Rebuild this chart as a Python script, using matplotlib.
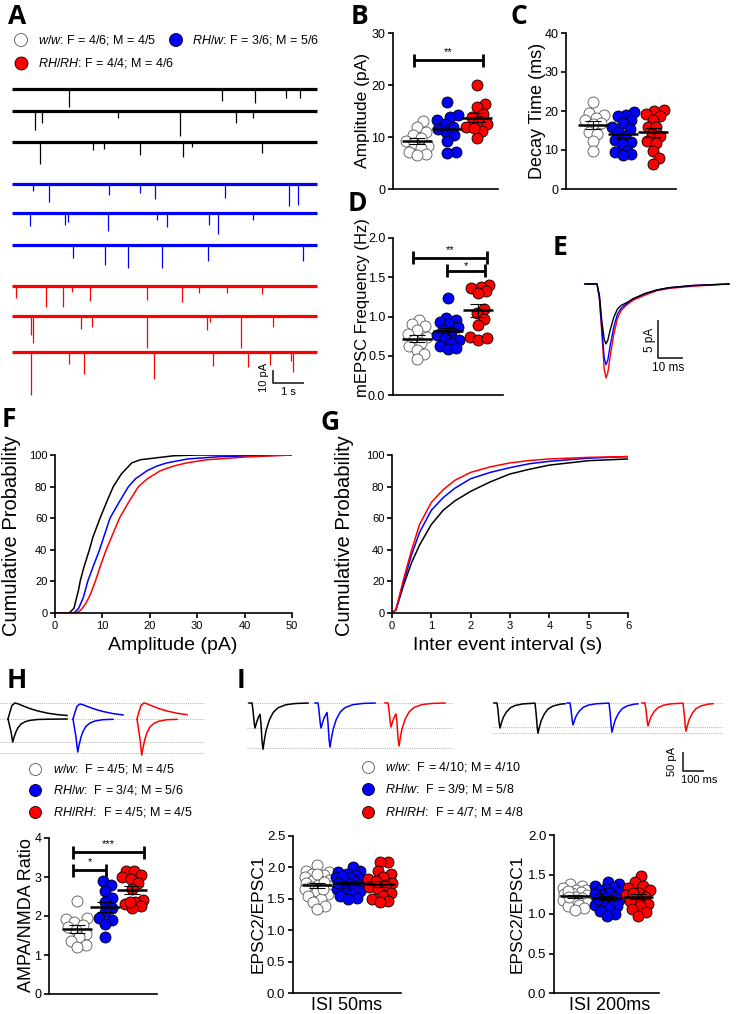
import numpy as np
import matplotlib
matplotlib.use("Agg")
import matplotlib.pyplot as plt

plt.rcParams['font.family'] = ['Liberation Sans', 'DejaVu Sans']
plt.rcParams['mathtext.fontset'] = 'custom'
plt.rcParams['mathtext.it'] = 'Liberation Sans:italic'
plt.rcParams['mathtext.rm'] = 'Liberation Sans'

# ---------------------------------------------------------------- data
GROUPS = ["w/w", "RH/w", "RH/RH"]

# Panel A: example mEPSC traces, events (time s, amplitude pA)
A_BLACK_T = [[1.87, 6.9, 7.98, 8.97, 9.44],
             [0.74, 1.0, 3.48, 5.5, 7.34, 7.9],
             [0.92, 2.64, 3.02, 4.2, 5.6, 5.9, 8.2]]
A_BLACK_A = [[15, 10, 12, 8, 8],
             [16, 10, 6, 21, 10, 6],
             [19, 7, 6, 11, 13, 4, 9]]
A_BLUE_T = [[0.7, 1.22, 3.19, 4.2, 4.7, 7.0, 9.09, 9.37],
            [0.59, 1.75, 1.82, 3.16, 4.74, 5.07, 6.47, 6.77, 7.9],
            [2.0, 3.06, 3.81, 4.93, 6.44, 9.55]]
A_BLUE_A = [[6, 15, 9, 8, 13, 12, 19, 18],
            [11, 10, 8, 15, 6, 12, 10, 18, 6],
            [11, 17, 20, 20, 14, 14]]
A_RED_T = [[0.13, 1.1, 1.66, 1.96, 2.56, 4.42, 5.56, 6.14, 7.04, 8.19],
           [0.61, 0.68, 2.25, 2.61, 4.42, 6.38, 6.5, 7.5, 8.55],
           [0.61, 1.87, 2.36, 4.67, 6.58, 7.75, 8.46, 9.14, 9.22]]
A_RED_A = [[10, 18, 18, 5, 13, 12, 14, 6, 6, 7],
           [16, 23, 11, 9, 27, 12, 5, 27, 9],
           [37, 10, 19, 23, 12, 13, 11, 8, 17]]
A_LEGEND = [r"$\mathit{w/w}$: F = 4/6; M = 4/5",
            r"$\mathit{RH/w}$: F = 3/6; M = 5/6",
            r"$\mathit{RH/RH}$: F = 4/4; M = 4/6"]

# Panel B: amplitude (pA)
B_WW = [13.1, 12.0, 11.0, 10.4, 9.8, 9.2, 8.8, 8.3, 7.8, 7.2, 6.8, 6.6]
B_RHW = [16.7, 14.3, 13.8, 13.2, 12.5, 12.0, 11.5, 11.0, 10.3, 9.3, 7.2, 7.0]
B_RHRH = [20.0, 16.3, 15.7, 14.4, 13.8, 13.0, 12.5, 12.0, 11.2, 9.9, 11.8]
# Panel C: decay time (ms)
C_WW = [22.3, 19.4, 19.0, 18.2, 17.6, 17.0, 16.6, 14.5, 14.0, 12.2, 9.7]
C_RHW = [19.7, 19.0, 18.6, 17.6, 16.8, 16.0, 15.4, 14.6, 13.6, 12.6, 12.0,
         11.6, 9.8, 9.4, 9.0, 8.8]
C_RHRH = [20.3, 20.0, 19.2, 18.8, 17.8, 16.0, 15.8, 14.0, 13.6, 12.2, 11.8,
          9.8, 7.9, 6.4]
# Panel D: mEPSC frequency (Hz)
D_WW = [0.96, 0.91, 0.88, 0.83, 0.78, 0.74, 0.70, 0.66, 0.62, 0.57, 0.52, 0.46]
D_RHW = [1.24, 0.98, 0.96, 0.93, 0.90, 0.86, 0.83, 0.80, 0.76, 0.73, 0.70,
         0.66, 0.63, 0.59, 0.60]
D_RHRH = [1.40, 1.38, 1.36, 1.33, 1.30, 1.10, 1.04, 0.97, 0.89, 0.74, 0.70, 0.72]

# Panel E: averaged mEPSC (time ms, current pA)
E_T = [0, 5, 6, 7, 8, 8.75, 9.5, 10.5, 12, 13.5, 15, 17.5, 20, 25, 30, 35, 45, 60]
E_WW = [0, 0, -1.5, -5, -7.5, -8.1, -7.6, -6.2, -4.5, -3.4, -2.9, -2.5, -2.0,
        -1.3, -0.8, -0.5, -0.2, 0]
E_RHW = [0, 0, -1.8, -6, -10, -10.9, -10.3, -8.3, -5.8, -4.1, -3.3, -2.6, -2.0,
         -1.3, -0.8, -0.5, -0.2, 0]
E_RHRH = [0, 0, -2, -6.5, -11.5, -12.7, -12.0, -9.8, -6.8, -4.7, -3.6, -2.8,
          -2.2, -1.5, -0.9, -0.6, -0.3, 0]

# Panel F: cumulative amplitude distributions
F_WW_X = [0, 3, 4, 5, 5.3, 6, 7.25, 8, 9.5, 11, 12.3, 14, 16.2, 18, 20.8, 25, 30, 50]
F_WW_Y = [0, 0, 3, 15, 20, 28, 40, 48, 60, 71, 80, 88, 95, 97, 98, 99.5, 100, 100]
F_RHW_X = [0, 4, 5, 6, 6.9, 8, 9.4, 10.5, 11.6, 13.5, 15.5, 17, 19.4, 21.5,
           23.6, 28, 35, 50]
F_RHW_Y = [0, 0, 3, 10, 20, 29, 40, 50, 60, 70, 80, 85, 90, 93, 95, 97.5, 99, 100]
F_RHRH_X = [0, 4.5, 5.5, 6.5, 7.5, 8.5, 9.6, 10.8, 12.2, 13.6, 15.5, 17.6, 19.5,
            22.2, 25, 27.8, 32, 40, 50]
F_RHRH_Y = [0, 0, 2, 6, 12, 20, 30, 40, 50, 60, 70, 80, 85, 90, 93, 95, 97,
            98.7, 100]

# Panel G: cumulative inter-event-interval distributions
G_X = [0, 0.1, 0.2, 0.3, 0.5, 0.7, 1.0, 1.3, 1.6, 2.0, 2.5, 3.0, 3.5, 4, 5, 6]
G_WW = [0, 2, 10, 18, 32, 43, 56, 65, 71, 77, 83, 88, 91, 93.6, 96.4, 97.5]
G_RHW = [0, 2, 11, 20, 37, 51, 65, 73, 79, 85, 89, 92, 94.5, 96, 98, 99]
G_RHRH = [0, 2, 12, 22, 40, 56, 70, 78, 84, 89, 92.5, 95, 96.5, 97.5, 98.5, 99]

# Panel H: AMPA/NMDA example traces (shape keypoints) and ratios
H_AMPA_T = [0, 3, 4.7, 6, 8, 10, 13, 17, 22, 30, 40, 59]
H_AMPA_F = [0, 0.55, 1.0, 0.8, 0.55, 0.38, 0.22, 0.12, 0.06, 0.02, 0.01, 0]
H_NMDA_T = [0, 2, 4, 7, 10, 15, 22, 30, 40, 50, 59]
H_NMDA_F = [0, 0.45, 0.85, 1.0, 0.95, 0.82, 0.65, 0.5, 0.36, 0.27, 0.22]
H_AMPA_PEAK = [23, 33, 36]
H_NMDA_PEAK = [16, 15, 16]
H_WW = [2.38, 1.96, 1.92, 1.85, 1.78, 1.72, 1.65, 1.55, 1.45, 1.35, 1.25, 1.20]
H_RHW = [2.90, 2.80, 2.65, 2.45, 2.35, 2.20, 2.10, 1.95, 1.90, 1.80, 1.47]
H_RHRH = [3.16, 3.15, 3.05, 3.00, 2.95, 2.85, 2.70, 2.40, 2.35, 2.30, 2.25,
          2.20, 2.35]
H_LEGEND = [r"$\mathit{w/w}$:  F = 4/5; M = 4/5",
            r"$\mathit{RH/w}$:  F = 3/4; M = 5/6",
            r"$\mathit{RH/RH}$:  F = 4/5; M = 4/5"]

# Panel I: paired-pulse traces (shape keypoints) and ratios
I_T = [0, 1, 2, 3, 4, 6, 9, 13, 18, 25, 35, 50]
I_F = [0, 0.3, 0.75, 1.0, 0.85, 0.6, 0.38, 0.2, 0.1, 0.04, 0.01, 0]
I50_ISI = [8, 9, 8]
I50_AMP1 = [25, 25, 24]
I50_AMP2 = [39, 38, 36]
I200_ISI = [38, 39, 38]
I200_AMP1 = [25, 22, 23]
I200_AMP2 = [30, 29, 28]
I50_WW = [2.04, 1.95, 1.92, 1.90, 1.88, 1.85, 1.82, 1.80, 1.78, 1.75, 1.72,
          1.70, 1.68, 1.65, 1.62, 1.58, 1.55, 1.50, 1.45, 1.38, 1.33, 1.90,
          1.76, 1.66]
I50_RHW = [2.00, 1.95, 1.92, 1.90, 1.88, 1.85, 1.83, 1.80, 1.78, 1.76, 1.74,
           1.72, 1.70, 1.68, 1.66, 1.63, 1.60, 1.57, 1.54, 1.52, 1.50, 1.86, 1.75]
I50_RHRH = [2.09, 2.08, 1.95, 1.90, 1.85, 1.82, 1.78, 1.75, 1.72, 1.68, 1.65,
            1.60, 1.55, 1.50, 1.47, 1.45]
I200_WW = [1.38, 1.35, 1.33, 1.31, 1.30, 1.28, 1.26, 1.25, 1.24, 1.22, 1.20,
           1.18, 1.16, 1.14, 1.12, 1.10, 1.07, 1.05, 1.29, 1.21]
I200_RHW = [1.41, 1.38, 1.36, 1.34, 1.32, 1.30, 1.28, 1.26, 1.24, 1.22, 1.20,
            1.18, 1.16, 1.14, 1.12, 1.10, 1.07, 1.04, 1.00, 0.97, 1.25, 1.19]
I200_RHRH = [1.48, 1.40, 1.36, 1.33, 1.30, 1.27, 1.24, 1.22, 1.19, 1.16, 1.13,
             1.10, 1.06, 1.02, 0.98, 1.26]
I_LEGEND = [r"$\mathit{w/w}$:  F = 4/10; M = 4/10",
            r"$\mathit{RH/w}$:  F = 3/9; M = 5/8",
            r"$\mathit{RH/RH}$:  F = 4/7; M = 4/8"]

# ---------------------------------------------------------------- style
TRACE_COLORS = ["black", "#0000ff", "#ff0000"]
FACE_COLORS = ["white", "#0000ff", "#ff0000"]
EDGE_COLORS = ["#555555", "black", "black"]

W, H = 741, 1014
fig = plt.figure(figsize=(W / 100, H / 100), dpi=100)


def pax(x0, y0, x1, y1):
    return fig.add_axes([x0 / W, 1 - y1 / H, (x1 - x0) / W, (y1 - y0) / H])


def style(ax, labelsize=9, lw=1.2):
    for s in ["top", "right"]:
        ax.spines[s].set_visible(False)
    for s in ["left", "bottom"]:
        ax.spines[s].set_linewidth(lw)
    ax.tick_params(direction="out", length=3.5, width=lw, labelsize=labelsize,
                   pad=2)


def swarm_px(ypx, mind, maxw):
    order = np.argsort(ypx)
    placed = []
    xs = np.zeros(len(ypx))
    cands = sorted(np.arange(-maxw, maxw + 0.01, 0.5), key=lambda c: (abs(c), -c))
    for i in order:
        y = ypx[i]
        chosen = None
        bestx, bestd = 0.0, -1.0
        for x in cands:
            if placed:
                d = min(np.hypot(x - px, y - py) for px, py in placed)
            else:
                d = np.inf
            if d >= mind:
                chosen = x
                break
            if d > bestd:
                bestd, bestx = d, x
        xs[i] = chosen if chosen is not None else bestx
        placed.append((xs[i], y))
    return xs


def dotplot(ax, groups, xlim, ylim, diam=11, frac=0.75, maxw=11):
    ax.set_xlim(*xlim)
    ax.set_ylim(*ylim)
    pos = ax.get_position()
    ppx = pos.width * W / (xlim[1] - xlim[0])
    ppy = pos.height * H / (ylim[1] - ylim[0])
    s = (diam / 1.389) ** 2
    for gi, vals in enumerate(groups):
        v = np.asarray(vals, float)
        offs = swarm_px(v * ppy, diam * frac, maxw) / ppx
        ax.scatter(gi + offs, v, s=s, facecolor=FACE_COLORS[gi],
                   edgecolor=EDGE_COLORS[gi], linewidth=0.6, zorder=3,
                   clip_on=False)
        m = v.mean()
        sem = v.std(ddof=1) / np.sqrt(len(v))
        ax.errorbar(gi, m, yerr=sem, color="black", lw=0.8, capsize=5.5,
                    capthick=0.8, zorder=4)
        ax.hlines(m, gi - 15 / ppx, gi + 15 / ppx, color="black", lw=1.8,
                  zorder=5)
    ax.set_xticks([])
    return ppx, ppy


def sigbar(ax, x0, x1, y, text, ppy, off=8):
    h = 6.5 / ppy
    kw = dict(color="black", lw=2, clip_on=False, solid_capstyle="butt")
    ax.plot([x0, x1], [y, y], **kw)
    ax.plot([x0, x0], [y - h, y + h], **kw)
    ax.plot([x1, x1], [y - h, y + h], **kw)
    ax.text((x0 + x1) / 2, y + off / ppy, text, ha="center", va="center",
            fontsize=8)


# overlay for labels in figure pixel coordinates
ov = fig.add_axes([0, 0, 1, 1], zorder=10)
ov.set_xlim(0, W)
ov.set_ylim(H, 0)
ov.axis("off")
ov.patch.set_alpha(0)

for letter, (x, y) in zip("ABCDEFGHI",
                          [(8, 3), (351, 3), (510, 3), (348, 190), (553, 234),
                           (2, 406), (320, 409), (7, 667), (237, 667)]):
    ov.text(x, y, letter, fontsize=19, fontweight="bold", family="Open Sans",
            ha="left", va="top")

# ---------------------------------------------------------------- Panel A
axA = pax(0, 75, 360, 400)
axA.axis("off")
PXS = 30.5
PAPX = 0.855
axA.set_xlim(-12 / PXS, 348 / PXS)
axA.set_ylim(-325 * PAPX, 0)
base_px = [[89, 111, 142], [184, 213, 245], [286, 316, 352]]
for ci, (TT, AA) in enumerate([(A_BLACK_T, A_BLACK_A), (A_BLUE_T, A_BLUE_A),
                               (A_RED_T, A_RED_A)]):
    for ri in range(3):
        b = -(base_px[ci][ri] - 75) * PAPX
        axA.hlines(b, 0, 10, color=TRACE_COLORS[ci], lw=2.3)
        axA.vlines(TT[ri], b, b - np.asarray(AA[ri]), color=TRACE_COLORS[ci],
                   lw=0.9)
sb_b = -(383 - 75) * PAPX
axA.plot([8.55, 8.55, 9.55], [sb_b + 10, sb_b, sb_b], color="#333333", lw=1.3)
axA.text(8.25, sb_b + 5, "10 pA", rotation=90, ha="center", va="center",
         fontsize=8)
axA.text(9.05, sb_b - 8, "1 s", ha="center", va="center", fontsize=8)

ov.scatter([21, 176], [40, 40], s=(13 / 1.389) ** 2,
           facecolor=FACE_COLORS[:2], edgecolor=EDGE_COLORS[:2], linewidth=0.6)
ov.scatter([21], [63], s=(13 / 1.389) ** 2, facecolor=FACE_COLORS[2],
           edgecolor=EDGE_COLORS[2], linewidth=0.6)
ov.text(38, 40, A_LEGEND[0], fontsize=9, va="center")
ov.text(192, 40, A_LEGEND[1], fontsize=9, va="center")
ov.text(38, 63, A_LEGEND[2], fontsize=9, va="center")

# ---------------------------------------------------------------- Panel B
axB = pax(393, 33, 498, 189)
style(axB)
_, ppy = dotplot(axB, [B_WW, B_RHW, B_RHRH], (-0.8, 2.7), (0, 30))
axB.set_yticks([0, 10, 20, 30])
sigbar(axB, -0.1, 2.2, 24.8, "**", ppy)
ov.text(362, 111, "Amplitude (pA)", rotation=90, ha="center", va="center",
        fontsize=12.5)

# ---------------------------------------------------------------- Panel C
axC = pax(566, 33, 676, 189)
style(axC)
dotplot(axC, [C_WW, C_RHW, C_RHRH], (-0.9, 2.77), (0, 40))
axC.set_yticks([0, 10, 20, 30, 40])
ov.text(537, 111, "Decay Time (ms)", rotation=90, ha="center", va="center",
        fontsize=13)

# ---------------------------------------------------------------- Panel D
axD = pax(393, 238, 503, 395)
style(axD, labelsize=9)
_, ppy = dotplot(axD, [D_WW, D_RHW, D_RHRH], (-0.79, 2.82), (0, 2))
axD.set_yticks([0, 0.5, 1.0, 1.5, 2.0])
axD.set_yticklabels(["0.0", "0.5", "1.0", "1.5", "2.0"])
sigbar(axD, -0.13, 2.3, 1.75, "**", ppy)
sigbar(axD, 0.98, 2.23, 1.58, "*", ppy, off=5)
ov.text(362, 308, "mEPSC Frequency (Hz)", rotation=90, ha="center",
        va="center", fontsize=12)

# ---------------------------------------------------------------- Panel E
axE = pax(580, 270, 740, 380)
axE.axis("off")
MSPX = 10 / 24
PAPXE = 5 / 37
axE.set_xlim(-5 * MSPX, 155 * MSPX)
axE.set_ylim(-96 * PAPXE, 14 * PAPXE)
for ci, tr in [(2, E_RHRH), (1, E_RHW), (0, E_WW)]:
    axE.plot(E_T, tr, color=TRACE_COLORS[ci], lw=1.0)
axE.plot([30.4, 30.4, 40.4], [-5, -10, -10], color="#333333", lw=1.3)
axE.text(27.0, -7.5, "5 pA", rotation=90, ha="center", va="center",
         fontsize=8.5)
axE.text(34.6, -11.3, "10 ms", ha="center", va="center", fontsize=8.5)

# ---------------------------------------------------------------- Panel F
axF = pax(55, 455, 292, 613)
style(axF, labelsize=8)
axF.set_xlim(0, 50)
axF.set_ylim(0, 100)
for ci, (xx, yy) in enumerate([(F_WW_X, F_WW_Y), (F_RHW_X, F_RHW_Y),
                               (F_RHRH_X, F_RHRH_Y)]):
    axF.plot(xx, yy, color=TRACE_COLORS[ci], lw=1.1)
axF.set_xticks(range(0, 51, 10))
axF.set_yticks(range(0, 101, 20))
ov.text(12, 536, "Cumulative Probability", rotation=90, ha="center",
        va="center", fontsize=14.5)
ov.text(173, 646, "Amplitude (pA)", ha="center", va="center", fontsize=14)

# ---------------------------------------------------------------- Panel G
axG = pax(392, 455, 628, 613)
style(axG, labelsize=8)
axG.set_xlim(0, 6)
axG.set_ylim(0, 100)
for ci, yy in enumerate([G_WW, G_RHW, G_RHRH]):
    axG.plot(G_X, yy, color=TRACE_COLORS[ci], lw=1.1)
axG.set_xticks(range(0, 7))
axG.set_yticks(range(0, 101, 20))
ov.text(345, 536, "Cumulative Probability", rotation=90, ha="center",
        va="center", fontsize=14.5)
ov.text(508, 646, "Inter event interval (s)", ha="center", va="center",
        fontsize=14)

# ---------------------------------------------------------------- Panel H
axHt = pax(0, 695, 205, 762)
axHt.axis("off")
axHt.set_xlim(0, 205)
axHt.set_ylim(-43, 24)
for lvl in [16, 0, -23, -34]:
    axHt.axhline(lvl, color="#999999", lw=0.6, ls=(0, (1, 1.5)))
h_start = [8, 73, 137]
h_len = [59, 57, 56]
for ci in range(3):
    ta = np.asarray(H_AMPA_T, float)
    tn = np.asarray(H_NMDA_T, float)
    sa = ta <= h_len[ci]
    sn = tn <= h_len[ci]
    axHt.plot(h_start[ci] + ta[sa], -H_AMPA_PEAK[ci] * np.asarray(H_AMPA_F)[sa],
              color=TRACE_COLORS[ci], lw=1.1)
    axHt.plot(h_start[ci] + tn[sn], H_NMDA_PEAK[ci] * np.asarray(H_NMDA_F)[sn],
              color=TRACE_COLORS[ci], lw=1.1)

for i, y in enumerate([769, 790, 812]):
    ov.scatter([35], [y], s=(12 / 1.389) ** 2, facecolor=FACE_COLORS[i],
               edgecolor=EDGE_COLORS[i], linewidth=0.6)
    ov.text(53, y, H_LEGEND[i], fontsize=9, va="center")

axH = pax(49, 838, 157, 994)
style(axH, labelsize=9)
_, ppy = dotplot(axH, [H_WW, H_RHW, H_RHRH], (-1.02, 2.9), (0, 4))
axH.set_yticks([0, 1, 2, 3, 4])
sigbar(axH, -0.15, 2.43, 3.64, "***", ppy)
sigbar(axH, -0.15, 1.05, 3.17, "*", ppy)
ov.text(27, 915, "AMPA/NMDA Ratio", rotation=90, ha="center", va="center",
        fontsize=13)

# ---------------------------------------------------------------- Panel I
axIt = pax(240, 695, 725, 785)
axIt.axis("off")
axIt.set_xlim(240, 725)
axIt.set_ylim(-82, 8)
for lvl in [0, -25, -45]:
    axIt.plot([247, 452], [lvl, lvl], color="#999999", lw=0.6, ls=(0, (1, 1.5)))
for lvl in [0, -24, -30]:
    axIt.plot([492, 722], [lvl, lvl], color="#999999", lw=0.6, ls=(0, (1, 1.5)))


def pp_trace(start, length, isi, a1, a2):
    t = np.arange(0, length + 0.01, 0.25)
    y = -a1 * np.interp(t - 3, I_T, I_F, left=0, right=0) \
        - a2 * np.interp(t - 3 - isi, I_T, I_F, left=0, right=0)
    return start + t, y


for ci, (st, ln) in enumerate([(249, 59), (315, 60), (385, 60)]):
    x, y = pp_trace(st, ln, I50_ISI[ci], I50_AMP1[ci], I50_AMP2[ci])
    axIt.plot(x, y, color=TRACE_COLORS[ci], lw=1.1)
for ci, (st, ln) in enumerate([(494, 71), (567, 71), (642, 71)]):
    x, y = pp_trace(st, ln, I200_ISI[ci], I200_AMP1[ci], I200_AMP2[ci])
    axIt.plot(x, y, color=TRACE_COLORS[ci], lw=1.1)
axIt.plot([683, 683, 703], [-50, -68, -68], color="#333333", lw=1.3)
axIt.text(672, -59, "50 pA", rotation=90, ha="center", va="center", fontsize=8)
axIt.text(699, -77, "100 ms", ha="center", va="center", fontsize=8)

for i, y in enumerate([767, 789, 812]):
    ov.scatter([368], [y], s=(12 / 1.389) ** 2, facecolor=FACE_COLORS[i],
               edgecolor=EDGE_COLORS[i], linewidth=0.6)
    ov.text(385, y, I_LEGEND[i], fontsize=9, va="center")

axI1 = pax(293, 836, 401, 993)
style(axI1, labelsize=9.5)
dotplot(axI1, [I50_WW, I50_RHW, I50_RHRH], (-0.76, 2.67), (0, 2.5), maxw=12)
axI1.set_yticks([0, 0.5, 1.0, 1.5, 2.0, 2.5])
axI1.set_yticklabels(["0.0", "0.5", "1.0", "1.5", "2.0", "2.5"])
ov.text(258, 914, "EPSC2/EPSC1", rotation=90, ha="center", va="center",
        fontsize=12.5)
ov.text(347, 1005, "ISI 50ms", ha="center", va="center", fontsize=13)

axI2 = pax(554, 835, 659, 993)
style(axI2, labelsize=9.5)
dotplot(axI2, [I200_WW, I200_RHW, I200_RHRH], (-0.67, 2.67), (0, 2.0), maxw=12)
axI2.set_yticks([0, 0.5, 1.0, 1.5, 2.0])
axI2.set_yticklabels(["0.0", "0.5", "1.0", "1.5", "2.0"])
ov.text(517, 914, "EPSC2/EPSC1", rotation=90, ha="center", va="center",
        fontsize=12.5)
ov.text(610, 1005, "ISI 200ms", ha="center", va="center", fontsize=13)

fig.savefig("out.png", dpi=100)
